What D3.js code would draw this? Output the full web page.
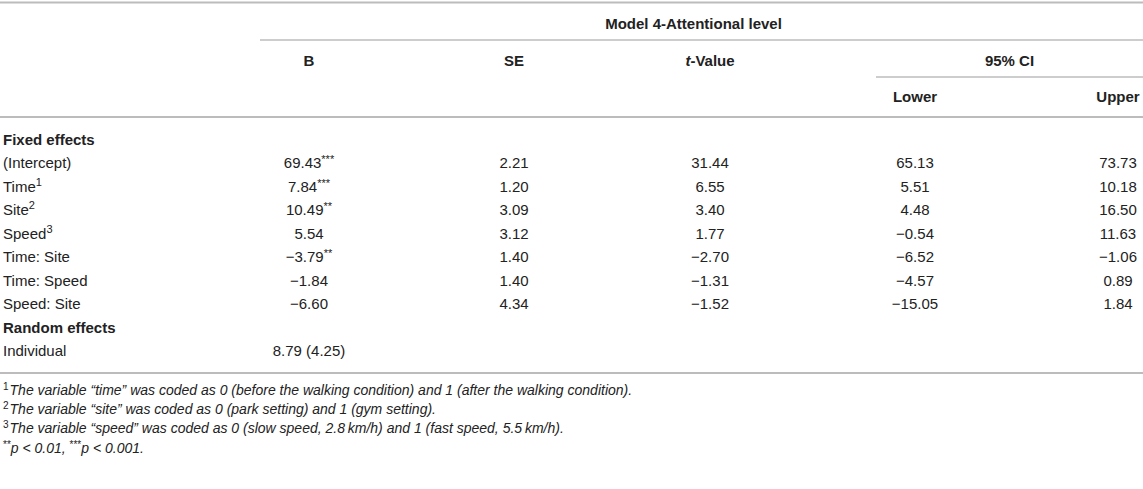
<!DOCTYPE html>
<html lang="en">
<head>
<meta charset="UTF-8">
<title>Model 4-Attentional level</title>
<script src="https://d3js.org/d3.v7.min.js"></script>
<style>
  html, body { margin: 0; padding: 0; background: #fff; }
  svg text { font-family: "Liberation Sans", Arial, Helvetica, sans-serif; fill: #222; }
</style>
</head>
<body>
<svg id="table"></svg>
<script>
// table content
const rowLabels = ["(Intercept)", "Time", "Site", "Speed", "Time: Site", "Time: Speed", "Speed: Site"];
const rowSups = ["", "1", "2", "3", "", "", ""];
const bValues = [69.43, 7.84, 10.49, 5.54, -3.79, -1.84, -6.60];
const bStars = ["***", "***", "**", "", "**", "", ""];
const seValues = [2.21, 1.20, 3.09, 3.12, 1.40, 1.40, 4.34];
const tValues = [31.44, 6.55, 3.40, 1.77, -2.70, -1.31, -1.52];
const lowerValues = [65.13, 5.51, 4.48, -0.54, -6.52, -4.57, -15.05];
const upperValues = [73.73, 10.18, 16.50, 11.63, -1.06, 0.89, 1.84];
const randomLabels = ["Individual"];
const randomB = ["8.79 (4.25)"];
const sectionLabels = ["Fixed effects", "Random effects"];
const columnKeys = ["label", "B", "SE", "t", "lower", "upper"];
const footnotes = [
  { sup: "1", text: "The variable \u201ctime\u201d was coded as 0 (before the walking condition) and 1 (after the walking condition)." },
  { sup: "2", text: "The variable \u201csite\u201d was coded as 0 (park setting) and 1 (gym setting)." },
  { sup: "3", text: "The variable \u201cspeed\u201d was coded as 0 (slow speed, 2.8\u2009km/h) and 1 (fast speed, 5.5\u2009km/h)." }
];

const width = 1143, height = 489;
const svg = d3.select("#table").attr("width", width).attr("height", height);

const fmt = d3.format(".2f");   // d3 v7 uses the real minus sign
const colX = d3.scaleOrdinal().domain(columnKeys).range([3, 309, 514, 710, 915, 1118]);
// row 0 = Fixed effects, 1..7 = fixed rows, 8 = Random effects, 9 = Individual
const rowY = d3.scaleLinear().domain([0, 9]).range([140, 351]);
const fnY = d3.scaleLinear().domain([0, 3]).range([390, 448]);
const base = 5;   // centre -> baseline offset
const fs = 15;
const modelStart = 260, ciStart = 876;

// rules
const rules = [
  { x1: 0, x2: width, y: 2.5, w: 2 },
  { x1: modelStart, x2: width, y: 40, w: 1.5 },
  { x1: ciStart, x2: width, y: 77, w: 1.5 },
  { x1: 0, x2: width, y: 117, w: 2 },
  { x1: 0, x2: width, y: 373, w: 2 }
];
svg.selectAll("line.rule").data(rules).join("line")
  .attr("class", "rule")
  .attr("x1", d => d.x1).attr("x2", d => d.x2)
  .attr("y1", d => d.y).attr("y2", d => d.y)
  .attr("stroke", "#bcbcbc").attr("stroke-width", d => d.w);

// header
const hdr = svg.append("g").style("font-weight", "bold").style("font-size", fs + "px");
hdr.append("text").attr("x", (modelStart + width) / 2 - 8).attr("y", 24 + base)
  .attr("text-anchor", "middle").text("Model 4-Attentional level");
hdr.append("text").attr("x", colX("B")).attr("y", 61 + base).attr("text-anchor", "middle").text("B");
hdr.append("text").attr("x", colX("SE")).attr("y", 61 + base).attr("text-anchor", "middle").text("SE");
const tv = hdr.append("text").attr("x", colX("t")).attr("y", 61 + base).attr("text-anchor", "middle");
tv.append("tspan").style("font-style", "italic").text("t");
tv.append("tspan").text("-Value");
hdr.append("text").attr("x", (ciStart + width) / 2).attr("y", 61 + base).attr("text-anchor", "middle").text("95% CI");
hdr.append("text").attr("x", colX("lower")).attr("y", 97 + base).attr("text-anchor", "middle").text("Lower");
hdr.append("text").attr("x", colX("upper")).attr("y", 97 + base).attr("text-anchor", "middle").text("Upper");

// section labels
svg.selectAll("text.section").data(sectionLabels).join("text")
  .attr("class", "section")
  .attr("x", colX("label")).attr("y", (d, i) => rowY(i * 8) + base)
  .style("font-weight", "bold").style("font-size", fs + "px")
  .text(d => d);

// fixed effect rows
const body = svg.append("g").style("font-size", fs + "px");
const rows = body.selectAll("g.row").data(rowLabels).join("g")
  .attr("class", "row")
  .attr("transform", (d, i) => `translate(0,${rowY(i + 1) + base})`);

const lab = rows.append("text").attr("x", colX("label"));
lab.append("tspan").text(d => d);
lab.append("tspan").attr("dy", -6).style("font-size", "11px").text((d, i) => rowSups[i]);

const bt = rows.append("text").attr("x", colX("B")).attr("text-anchor", "middle");
bt.append("tspan").text((d, i) => fmt(bValues[i]));
bt.append("tspan").attr("dy", -5).style("font-size", "11px").text((d, i) => bStars[i]);

const numCols = [["SE", seValues], ["t", tValues], ["lower", lowerValues], ["upper", upperValues]];
numCols.forEach(([key, vals]) => {
  rows.append("text").attr("x", colX(key)).attr("text-anchor", "middle")
    .text((d, i) => fmt(vals[i]));
});

// random effect rows
const rrows = body.selectAll("g.rrow").data(randomLabels).join("g")
  .attr("class", "rrow")
  .attr("transform", (d, i) => `translate(0,${rowY(9 + i) + base})`);
rrows.append("text").attr("x", colX("label")).text(d => d);
rrows.append("text").attr("x", colX("B")).attr("text-anchor", "middle").text((d, i) => randomB[i]);

// footnotes
const fn = svg.append("g").style("font-size", "14px");
const fnt = fn.selectAll("text.fn").data(footnotes).join("text")
  .attr("class", "fn").attr("x", 3).attr("y", (d, i) => fnY(i) + 4.5);
fnt.append("tspan").attr("dy", -5).style("font-size", "10px").text(d => d.sup);
fnt.append("tspan").attr("dy", 5).attr("dx", 1).style("font-style", "italic").text(d => d.text);

const pn = fn.append("text").attr("x", 3).attr("y", fnY(3) + 4.5);
pn.append("tspan").attr("dy", -5).style("font-size", "10px").text("**");
pn.append("tspan").attr("dy", 5).style("font-style", "italic").text("p");
pn.append("tspan").style("font-style", "italic").text(" < 0.01, ");
pn.append("tspan").attr("dy", -5).style("font-size", "10px").text("***");
pn.append("tspan").attr("dy", 5).style("font-style", "italic").text("p");
pn.append("tspan").style("font-style", "italic").text(" < 0.001.");
</script>
</body>
</html>
